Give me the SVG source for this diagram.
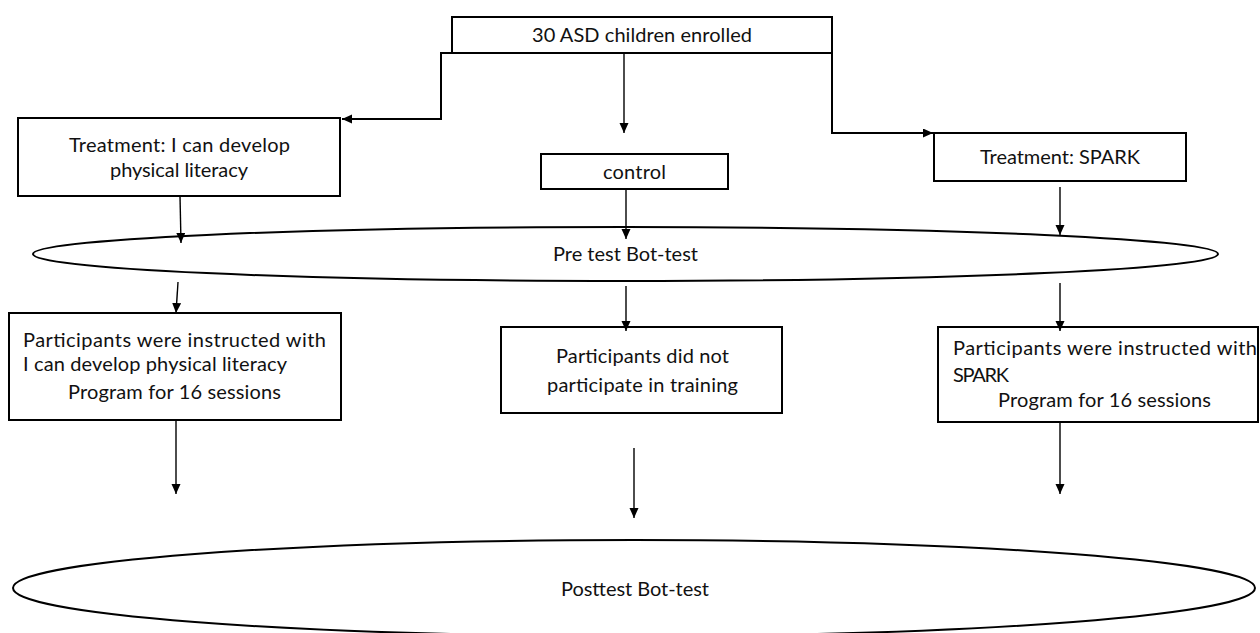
<svg xmlns="http://www.w3.org/2000/svg" width="1260" height="633" viewBox="0 0 1260 633">
<defs>
<style>
.box{fill:#fff;stroke:#000;stroke-width:2}
.ell{fill:#fff;stroke:#000;stroke-width:2}
.t{font-family:Lato,"Liberation Sans",sans-serif;font-size:20px;fill:#111}
.c{fill:none;stroke:#000;stroke-width:1.4}
.c2{fill:none;stroke:#000;stroke-width:2}
</style>
<marker id="ah" markerUnits="userSpaceOnUse" markerWidth="11" markerHeight="10" refX="10" refY="4.5" orient="auto" viewBox="0 0 11 10">
<path d="M0,0 L10,4.5 L0,9 z" fill="#000"/>
</marker>
</defs>
<rect width="1260" height="633" fill="#fff"/>

<g id="pretest">
<ellipse class="ell" cx="625.5" cy="254" rx="592.5" ry="27"/>
<text class="t" x="553" y="260.5" textLength="145">Pre test Bot-test</text>
</g>

<g id="posttest">
<ellipse class="ell" cx="634" cy="588" rx="621" ry="48"/>
<text class="t" x="561" y="596" textLength="148">Posttest Bot-test</text>
</g>

<g id="enrolled">
<rect class="box" x="452" y="17" width="380" height="36"/>
<text class="t" x="532" y="41.5" textLength="220">30 ASD children enrolled</text>
</g>

<g id="treat-ilit">
<rect class="box" x="18" y="118" width="322" height="78"/>
<text class="t" x="69" y="151.5" textLength="221">Treatment: I can develop</text>
<text class="t" x="110" y="177" textLength="138">physical literacy</text>
</g>

<g id="control">
<rect class="box" x="541" y="154" width="187" height="35"/>
<text class="t" x="603" y="179" textLength="63">control</text>
</g>

<g id="treat-spark">
<rect class="box" x="934" y="133" width="252" height="48"/>
<text class="t" x="980" y="164" textLength="160">Treatment: SPARK</text>
</g>

<g id="instr-ilit">
<rect class="box" x="9" y="313" width="332" height="107"/>
<text class="t" x="23" y="347" textLength="303">Participants were instructed with</text>
<text class="t" x="23" y="371" textLength="264">I can develop physical literacy</text>
<text class="t" x="68" y="399" textLength="213">Program for 16 sessions</text>
</g>

<g id="no-train">
<rect class="box" x="501" y="327" width="281" height="86"/>
<text class="t" x="556" y="363" textLength="173">Participants did not</text>
<text class="t" x="547" y="391.5" textLength="191">participate in training</text>
</g>

<g id="instr-spark">
<rect class="box" x="938" y="327" width="320" height="95"/>
<text class="t" x="953" y="355" textLength="304">Participants were instructed with</text>
<text class="t" x="953" y="381.5" textLength="56">SPARK</text>
<text class="t" x="998" y="406.5" textLength="213">Program for 16 sessions</text>
</g>

<g id="connectors">
<path class="c2" d="M452,53 H441 V119 H342" marker-end="url(#ah)"/>
<path class="c" d="M624,53 V133" marker-end="url(#ah)"/>
<path class="c2" d="M832,53 V133 H933" marker-end="url(#ah)"/>
<path class="c" d="M180,196 L181,243" marker-end="url(#ah)"/>
<path class="c" d="M626,189 V239" marker-end="url(#ah)"/>
<path class="c" d="M1060,187 V235" marker-end="url(#ah)"/>
<path class="c" d="M178,282 L176,313" marker-end="url(#ah)"/>
<path class="c" d="M626,286 V331" marker-end="url(#ah)"/>
<path class="c" d="M1060,283 V331" marker-end="url(#ah)"/>
<path class="c" d="M176,420 V494" marker-end="url(#ah)"/>
<path class="c" d="M634,448 V518" marker-end="url(#ah)"/>
<path class="c" d="M1060,422 V494" marker-end="url(#ah)"/>
</g>
</svg>
